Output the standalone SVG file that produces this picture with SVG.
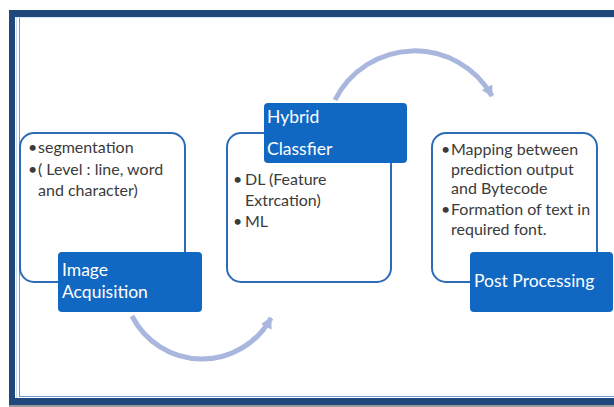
<svg xmlns="http://www.w3.org/2000/svg" width="614" height="407" viewBox="0 0 614 407">
<defs>
<style>
.frame{fill:#1f497d}
.outline{fill:#ffffff;stroke:#2c6cb5;stroke-width:2}
.label{fill:#1068c2}
.ltxt{font-family:Lato,"Open Sans",sans-serif;font-size:17.5px;fill:#ffffff}
.btxt{font-family:Lato,"Open Sans",sans-serif;font-size:16px;fill:#3b3b3b}
.arc{fill:none;stroke:#a9b7de;stroke-width:5;marker-end:url(#ah)}
</style>
<marker id="ah" markerUnits="userSpaceOnUse" markerWidth="14" markerHeight="14" refX="10" refY="6" orient="auto">
<path d="M0,0 L11,6 L0,12 Z" fill="#a9b7de"/>
</marker>
</defs>
<rect x="0" y="0" width="614" height="407" fill="#ffffff"/>
<g id="frame">
<rect x="9" y="10" width="605" height="7" class="frame"/>
<rect x="9" y="10" width="6" height="395" class="frame"/>
<rect x="9" y="398" width="605" height="7" class="frame"/>
<rect x="9" y="405" width="605" height="2" fill="#9a9a9a"/>
<line x1="16.5" y1="17" x2="16.5" y2="398" stroke="#c9dcef" stroke-width="1"/>
<line x1="19.5" y1="18" x2="19.5" y2="397" stroke="#7f98b8" stroke-width="1"/>
<line x1="16" y1="17.5" x2="614" y2="17.5" stroke="#cfe6f5" stroke-width="1"/>
<line x1="19" y1="396.5" x2="614" y2="396.5" stroke="#6f9ccc" stroke-width="1"/>
</g>
<g id="connectors">
<path class="arc" d="M132,316 A78.5,78.5 0 0 0 271,318"/>
<path class="arc" d="M335,100 A89,89 0 0 1 492,96"/>
</g>
<g id="node-image">
<rect class="outline" x="20" y="133" width="165" height="149" rx="14"/>
<text class="btxt" x="28" y="153">•</text>
<text class="btxt" x="38" y="153">segmentation</text>
<text class="btxt" x="28" y="175">•</text>
<text class="btxt" x="38" y="175">( Level : line, word</text>
<text class="btxt" x="38" y="196">and character)</text>
<rect class="label" x="58" y="252" width="144" height="60" rx="4"/>
<text class="ltxt" x="62" y="276">Image</text>
<text class="ltxt" x="62" y="298">Acquisition</text>
</g>
<g id="node-hybrid">
<rect class="outline" x="227" y="133" width="164" height="149" rx="14"/>
<text class="btxt" x="233" y="185">•</text>
<text class="btxt" x="245" y="185">DL (Feature</text>
<text class="btxt" x="245" y="206">Extrcation)</text>
<text class="btxt" x="233" y="227">•</text>
<text class="btxt" x="245" y="227">ML</text>
<rect class="label" x="264" y="103" width="143" height="60" rx="4"/>
<text class="ltxt" x="267" y="123">Hybrid</text>
<text class="ltxt" x="267" y="155">Classfier</text>
</g>
<g id="node-post">
<rect class="outline" x="432" y="133" width="165" height="149" rx="14"/>
<text class="btxt" x="441" y="155">•</text>
<text class="btxt" x="451" y="155">Mapping between</text>
<text class="btxt" x="451" y="175">prediction output</text>
<text class="btxt" x="451" y="194">and Bytecode</text>
<text class="btxt" x="441" y="215">•</text>
<text class="btxt" x="451" y="215">Formation of text in</text>
<text class="btxt" x="451" y="235">required font.</text>
<rect class="label" x="470" y="252" width="143" height="60" rx="4"/>
<text class="ltxt" x="474" y="287">Post Processing</text>
</g>
</svg>
